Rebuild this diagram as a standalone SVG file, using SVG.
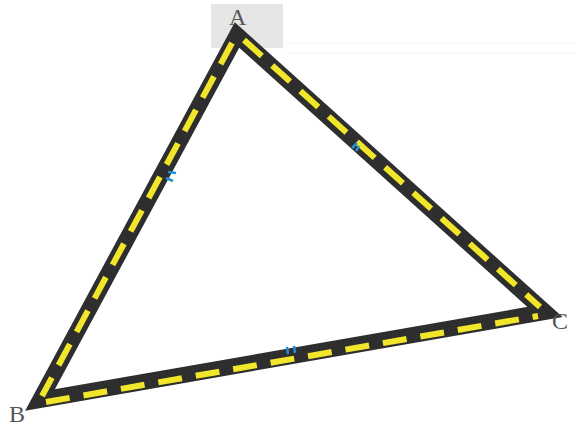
<svg xmlns="http://www.w3.org/2000/svg" width="584" height="430" viewBox="0 0 584 430">
<style>
.edge-bg{fill:none;stroke:#2e2e2e;stroke-width:16;stroke-linejoin:miter}
.edge-dash{fill:none;stroke:#f2e62a;stroke-width:6;stroke-dasharray:24 14}
.tick{fill:none;stroke:#1e8fd6;stroke-width:2.5}
.lbl{font-family:"Liberation Serif","Times New Roman",serif;font-size:24px;fill:#555}
</style>
<rect width="584" height="430" fill="#fff"/>
<rect x="211" y="4" width="72" height="44" fill="#e6e6e6"/>
<line x1="284" y1="43" x2="576" y2="43" stroke="#f4f4f4" stroke-width="1"/>
<line x1="284" y1="53" x2="576" y2="53" stroke="#f4f4f4" stroke-width="1"/>
<g id="connectors">
<polygon class="edge-bg" points="237,35 40,400 545,312"/>
<polyline class="edge-dash" points="232,43 42,396"/>
<polyline class="edge-dash" points="244,40 540,307"/>
<polyline class="edge-dash" points="46,402 538,316"/>
<path class="tick" d="M168,172 l8,1 M166,178 l7,3"/>
<path class="tick" d="M352,148 l5,-5 M356,151 l3,-5"/>
<path class="tick" d="M287,347 l1,7 M294,346 l1,7"/>
</g>
<g id="node-A"><text class="lbl" x="229" y="25">A</text></g>
<g id="node-B"><text class="lbl" x="9" y="422">B</text></g>
<g id="node-C"><text class="lbl" x="552" y="329">C</text></g>
</svg>
